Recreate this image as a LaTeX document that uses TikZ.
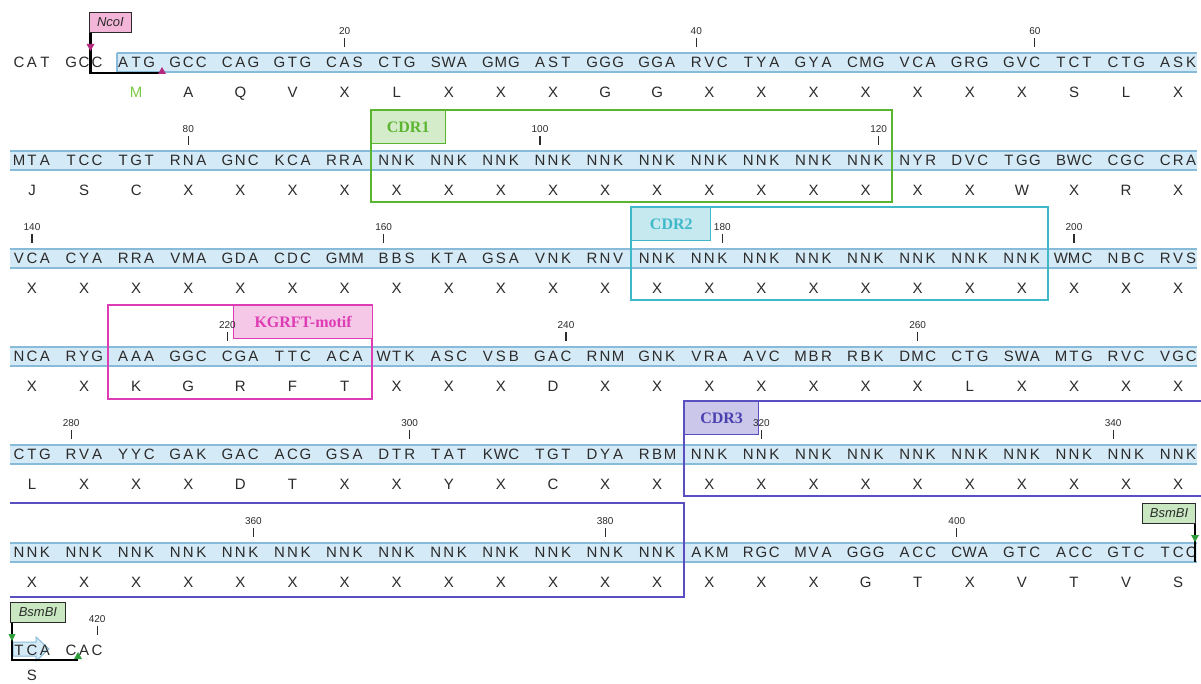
\documentclass[tikz,border=0pt]{standalone}
\usepackage{fontspec}
\setmainfont{Liberation Sans}
\newfontfamily\serifb{Liberation Serif}
\definecolor{seq}{HTML}{2B2B2B}
\definecolor{bandfill}{HTML}{D5EAF7}
\definecolor{bandline}{HTML}{88BBDA}
\definecolor{cdrA}{HTML}{5CB531}
\definecolor{cdrAf}{HTML}{D4ECC9}
\definecolor{cdrB}{HTML}{3FB8C9}
\definecolor{cdrBf}{HTML}{C6E9EF}
\definecolor{motif}{HTML}{DD3CB4}
\definecolor{motiff}{HTML}{F6C8E8}
\definecolor{cdrC}{HTML}{5A4FC0}
\definecolor{cdrCf}{HTML}{CBC7EA}
\definecolor{cdrCt}{HTML}{4A3FAE}
\definecolor{mgreen}{HTML}{7AC943}
\definecolor{ncoif}{HTML}{F4B6D8}
\definecolor{ncoit}{HTML}{B52A7E}
\definecolor{bsmf}{HTML}{C9E8C1}
\definecolor{bsmt}{HTML}{2E9E3A}
\def\splitcodon#1#2#3\relax{\def\ba{#1}\def\bb{#2}\def\bc{#3}}
\newcommand\seqrow[2]{%
  \foreach \cod [count=\i from 0] in {#2} {%
    \expandafter\splitcodon\cod\relax
    \pgfmathsetmacro\cx{32+52.1*\i}%
    \pgfmathsetmacro\cy{62+98*#1}%
    \node[base] (s#1-\i-a) at (\cx-13,\cy) {\ba};
    \node[base] (s#1-\i-b) at (\cx,\cy) {\bb};
    \node[base] (s#1-\i-c) at (\cx+13,\cy) {\bc};
  }}
\newcommand\aarow[3]{%
  \foreach \aa [count=\i from #2] in {#3} {%
    \pgfmathsetmacro\cx{32+52.1*\i}%
    \pgfmathsetmacro\cy{92+98*#1}%
    \node[base] (a#1-\i) at (\cx,\cy) {\aa};
  }}
\newcommand\tk[4]{%
  \pgfmathsetmacro\tx{32+52.1*#2+13*#3}%
  \pgfmathsetmacro\ty{62+98*#1}%
  \node[ticklbl] (t#4) at (\tx,\ty-31) {#4};
  \draw[tickline] (\tx,\ty-24) -- (\tx,\ty-15);}
\newcommand\band[3]{%
  \pgfmathsetmacro\ty{62+98*#1}%
  \fill[bandfill] (#2,\ty-9) rectangle (#3,\ty+10);
  \draw[bandline] (#2,\ty-9) -- (#3,\ty-9) (#2,\ty+10) -- (#3,\ty+10);}
\begin{document}
\begin{tikzpicture}[x=1pt,y=-1pt,
  base/.style={font=\fontsize{15}{15}\selectfont, text=seq, inner sep=0pt, text height=10.7pt, text depth=0pt},
  ticklbl/.style={font=\fontsize{10}{10}\selectfont, text=seq, inner sep=0pt},
  tickline/.style={draw=seq, line width=1.1pt},
  bandfill/.style={fill=bandfill},
  bandline/.style={draw=bandline, line width=1.6pt},
  regbox/.style={line width=1.8pt},
  lbl/.style={font=\serifb\bfseries\fontsize{16}{16}\selectfont, inner sep=0pt, line width=1.2pt, minimum height=33pt, anchor=north west},
  site/.style={draw=seq, line width=0.9pt, font=\itshape\fontsize{13}{13}\selectfont, text=seq, inner sep=0pt, minimum height=20pt},
  cut/.style={draw=black, line width=2.4pt},
]
\useasboundingbox (0,0) rectangle (1201,684);
\fill[white] (0,0) rectangle (1201,684);
% bands
\band{0}{117}{1197}
\draw[bandline, line width=1.2pt] (117,53) -- (117,72);
\band{1}{10}{1197}
\band{2}{10}{1197}
\band{3}{10}{1197}
\band{4}{10}{1197}
\band{5}{10}{1197}
% arrow end in last row
\filldraw[draw=bandline, fill=bandfill, line width=1pt] (13,642) -- (36,642) -- (36,637) -- (49,649) -- (36,661) -- (36,656) -- (13,656) -- cycle;
% region boxes
\draw[cdrA, regbox] (370.6,110) rectangle (891.7,202);
\node[lbl, draw=cdrA, fill=cdrAf, text=cdrA, minimum width=74pt] (cdr1) at (370.6,110) {CDR1};
\draw[cdrB, regbox] (631.2,207) rectangle (1047.9,300);
\node[lbl, draw=cdrB, fill=cdrBf, text=cdrB, minimum width=79pt] (cdr2) at (631.2,207) {CDR2};
\draw[motif, regbox] (108,305) rectangle (372,399);
\node[lbl, draw=motif, fill=motiff, text=motif, minimum width=139pt] (kgrft) at (233,305) {KGRFT-motif};
\draw[cdrC, regbox] (1201,401) -- (684,401) -- (684,496) -- (1201,496);
\draw[cdrC, regbox] (10,503) -- (684,503) -- (684,597) -- (10,597);
\node[lbl, draw=cdrC, fill=cdrCf, text=cdrCt, minimum width=74pt] (cdr3) at (684,401) {CDR3};
% sequences
\seqrow{0}{CAT,GCC,ATG,GCC,CAG,GTG,CAS,CTG,SWA,GMG,AST,GGG,GGA,RVC,TYA,GYA,CMG,VCA,GRG,GVC,TCT,CTG,ASK}
\seqrow{1}{MTA,TCC,TGT,RNA,GNC,KCA,RRA,NNK,NNK,NNK,NNK,NNK,NNK,NNK,NNK,NNK,NNK,NYR,DVC,TGG,BWC,CGC,CRA}
\seqrow{2}{VCA,CYA,RRA,VMA,GDA,CDC,GMM,BBS,KTA,GSA,VNK,RNV,NNK,NNK,NNK,NNK,NNK,NNK,NNK,NNK,WMC,NBC,RVS}
\seqrow{3}{NCA,RYG,AAA,GGC,CGA,TTC,ACA,WTK,ASC,VSB,GAC,RNM,GNK,VRA,AVC,MBR,RBK,DMC,CTG,SWA,MTG,RVC,VGC}
\seqrow{4}{CTG,RVA,YYC,GAK,GAC,ACG,GSA,DTR,TAT,KWC,TGT,DYA,RBM,NNK,NNK,NNK,NNK,NNK,NNK,NNK,NNK,NNK,NNK}
\seqrow{5}{NNK,NNK,NNK,NNK,NNK,NNK,NNK,NNK,NNK,NNK,NNK,NNK,NNK,AKM,RGC,MVA,GGG,ACC,CWA,GTC,ACC,GTC,TCC}
\seqrow{6}{TCA,CAC}
% amino acids
\node[base, text=mgreen] (a0-2) at (136.2,92) {M};
\aarow{0}{3}{A,Q,V,X,L,X,X,X,G,G,X,X,X,X,X,X,X,S,L,X}
\aarow{1}{0}{J,S,C,X,X,X,X,X,X,X,X,X,X,X,X,X,X,X,X,W,X,R,X}
\aarow{2}{0}{X,X,X,X,X,X,X,X,X,X,X,X,X,X,X,X,X,X,X,X,X,X,X}
\aarow{3}{0}{X,X,K,G,R,F,T,X,X,X,D,X,X,X,X,X,X,X,L,X,X,X,X}
\aarow{4}{0}{L,X,X,X,D,T,X,X,Y,X,C,X,X,X,X,X,X,X,X,X,X,X,X}
\aarow{5}{0}{X,X,X,X,X,X,X,X,X,X,X,X,X,X,X,X,G,T,X,V,T,V,S}
\node[base] (a6-0) at (32,675.5) {S};
% ticks
\tk{0}{6}{0}{20}\tk{0}{13}{-1}{40}\tk{0}{19}{1}{60}
\tk{1}{3}{0}{80}\tk{1}{10}{-1}{100}\tk{1}{16}{1}{120}
\tk{2}{0}{0}{140}\tk{2}{7}{-1}{160}\tk{2}{13}{1}{180}\tk{2}{20}{0}{200}
\tk{3}{4}{-1}{220}\tk{3}{10}{1}{240}\tk{3}{17}{0}{260}
\tk{4}{1}{-1}{280}\tk{4}{7}{1}{300}\tk{4}{14}{0}{320}\tk{4}{21}{-1}{340}
\tk{5}{4}{1}{360}\tk{5}{11}{0}{380}\tk{5}{18}{-1}{400}
\tk{6}{1}{1}{420}
% NcoI site
\node[site, fill=ncoif, minimum width=42pt, anchor=north west] (ncoi) at (89,12) {NcoI};
\coordinate (nc1) at (90.5,73);
\coordinate (nc2) at (162,73);
\draw[cut] (ncoi.south west -| nc1) -- (nc1) -- (nc2);
\fill[ncoit] (86.5,44) -- (94.5,44) -- (90.5,51) -- cycle;
\fill[ncoit] (162,67) -- (166,74) -- (158,74) -- cycle;
% BsmBI sites
\node[site, fill=bsmf, minimum width=53pt, anchor=north east] (bsm1) at (1196,503) {BsmBI};
\coordinate (bc1) at (1195,562);
\draw[cut, line width=1.4pt] (bsm1.south east -| bc1) -- (bc1);
\fill[bsmt] (1191,535) -- (1199,535) -- (1195,542) -- cycle;
\node[site, fill=bsmf, minimum width=55pt, anchor=north west] (bsm2) at (10,602) {BsmBI};
\coordinate (bc2) at (12,660);
\coordinate (bc3) at (78,660);
\draw[cut] (bsm2.south west -| bc2) -- (bc2) -- (bc3);
\fill[bsmt] (8.5,634) -- (15.5,634) -- (12,641) -- cycle;
\fill[bsmt] (78,652) -- (82,659) -- (74,659) -- cycle;
\end{tikzpicture}
\end{document}
